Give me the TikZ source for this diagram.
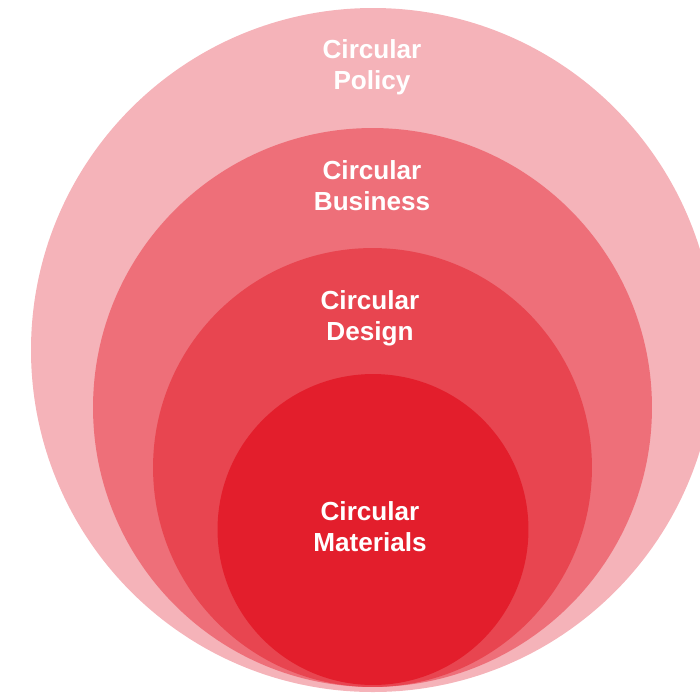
\documentclass[tikz,border=0pt]{standalone}
\usepackage{fontspec}
\setmainfont{Liberation Sans}
\definecolor{ringA}{HTML}{F5B3B9}
\definecolor{ringB}{HTML}{EE6F79}
\definecolor{ringC}{HTML}{E84550}
\definecolor{ringD}{HTML}{E31E2C}
\begin{document}
\begin{tikzpicture}[x=0.75pt, y=-0.75pt]
        \tikzset{
            layer/.style={font=\bfseries\fontsize{19.6}{23}\selectfont, text=white, anchor=base, inner sep=0pt}
        }
        \useasboundingbox (0,0) rectangle (700,694);
        \clip (0,0) rectangle (700,694);

        % nested rings, largest first
        \fill[ringA] (373,350) circle (256.5pt);
        \fill[ringB] (372.5,407.5) circle (209.6pt);
        \fill[ringC] (372.5,467.5) circle (164.6pt);
        \fill[ringD] (373,529.5) circle (116.6pt);

        \node[layer] (policy1) at (372,58) {Circular};
        \node[layer] (policy2) at (372,89) {Policy};
        \node[layer] (business1) at (372,179) {Circular};
        \node[layer] (business2) at (372,210) {Business};
        \node[layer] (design1) at (370,309) {Circular};
        \node[layer] (design2) at (370,340) {Design};
        \node[layer] (materials1) at (370,520) {Circular};
        \node[layer] (materials2) at (370,551) {Materials};
    \end{tikzpicture}
\end{document}
